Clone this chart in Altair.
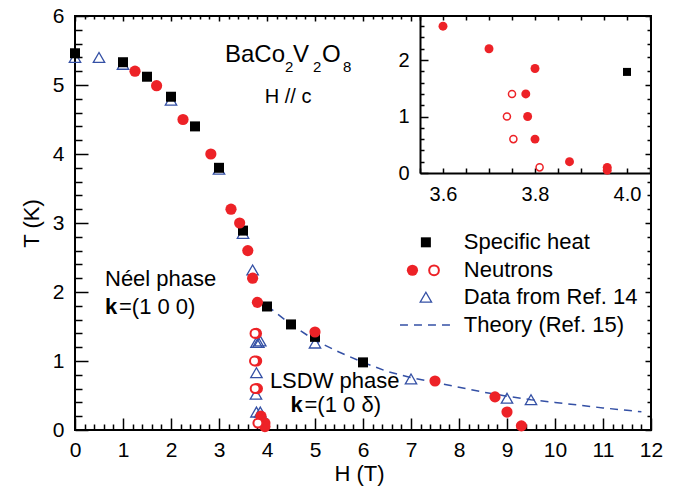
import altair as alt
import pandas as pd

RED = "#ED2227"
BLUE = "#3450A5"
FONT = "Liberation Sans"

# ---------------- data ----------------
# Specific heat (black squares)
sh_H = [0.0, 1.0, 1.5, 2.0, 2.5, 3.0, 3.5, 4.0, 4.5, 5.0, 6.0]
sh_T = [5.46, 5.33, 5.12, 4.83, 4.40, 3.80, 2.89, 1.79, 1.53, 1.35, 0.98]

# Neutrons, filled circles
nf_H = [1.25, 1.70, 2.25, 2.83, 3.25, 3.43, 3.60, 3.70, 3.80, 3.78, 3.784, 3.80,
        3.875, 3.957, 3.957, 5.0, 7.5, 8.75, 9.0, 9.3]
nf_T = [5.20, 4.99, 4.50, 4.00, 3.20, 3.00, 2.60, 2.20, 1.85, 1.40, 1.00, 0.60,
        0.20, 0.10, 0.05, 1.42, 0.71, 0.48, 0.26, 0.06]

# Neutrons, open circles
no_H = [3.750, 3.739, 3.753, 3.810]
no_T = [1.40, 1.00, 0.60, 0.10]

# Data from Ref. 14 (open triangles)
ref_H = [0.0, 0.5, 1.0, 2.0, 3.0, 3.5, 3.70, 3.78, 3.82, 3.86, 3.78, 3.77, 3.78,
         3.86, 5.0, 7.0, 9.0, 9.5]
ref_T = [5.40, 5.40, 5.30, 4.78, 3.78, 2.85, 2.32, 1.27, 1.27, 1.29, 0.83, 0.52,
         0.26, 0.26, 1.26, 0.74, 0.46, 0.44]

# Theory (Ref. 15)
th_H = [4.0, 4.5, 5.0, 5.5, 6.0, 6.5, 7.0, 7.5, 8.0, 8.5, 9.0, 9.5, 10.0, 10.5,
        11.0, 11.5, 11.8]
th_T = [1.80, 1.53, 1.30, 1.13, 0.98, 0.85, 0.76, 0.69, 0.62, 0.55, 0.49, 0.44,
        0.40, 0.36, 0.32, 0.285, 0.265]

# tick values
x_major = list(range(0, 13))
x_minor = [round(i * 0.2, 1) for i in range(61) if i % 5]
y_major = list(range(0, 7))
y_minor = [round(i * 0.2, 1) for i in range(31) if i % 5]
ix_ticks = [round(3.55 + 0.05 * i, 2) for i in range(11)]
ix_labels = [3.6, 3.8, 4.0]
iy_major = [0, 1, 2]
iy_minor = [0.2, 0.4, 0.6, 0.8, 1.2, 1.4, 1.6, 1.8, 2.2, 2.4, 2.6]

IXD = [3.55, 4.05]
IYD = [0, 2.78]


def frame(hs, ts):
    return pd.DataFrame({"H": list(hs), "T": list(ts)})


def inset_frame(hs, ts):
    keep = [(h, t) for h, t in zip(hs, ts)
            if IXD[0] <= h <= IXD[1] and t <= IYD[1]]
    return pd.DataFrame({"H": [k[0] for k in keep], "T": [k[1] for k in keep]})


sh = frame(sh_H, sh_T)
nf = frame(nf_H, nf_T)
no = frame(no_H, no_T)
ref = frame(ref_H, ref_T)
th = frame(th_H, th_T)
one = pd.DataFrame({"k": [0]})

# ---------------- layout ----------------
W, HT = 576, 414
IX0, IX1, IY0 = 345, 575, 157

xs = alt.Scale(domain=[0, 12], nice=False, zero=False)
ys = alt.Scale(domain=[0, 6], nice=False, zero=False)
ixs = alt.Scale(domain=IXD, range=[IX0, IX1], nice=False, zero=False)
iys = alt.Scale(domain=IYD, range=[IY0, 0], nice=False, zero=False)

main_xaxis = alt.Axis(orient="bottom", values=x_major, ticks=False, tickSize=0,
                      domain=False, grid=False, labelFlush=False, labelOverlap=False,
                      labelPadding=9, labelFontSize=21, labelFont=FONT,
                      title="H (T)", titleFontSize=22, titleFontWeight="normal",
                      titleFont=FONT, titleX=284, titleY=50,
                      titleBaseline="alphabetic", titleAlign="center")
main_yaxis = alt.Axis(orient="left", values=y_major, ticks=False, tickSize=0,
                      domain=False, grid=False, labelFlush=False, labelOverlap=False,
                      labelPadding=11, labelFontSize=21, labelFont=FONT,
                      title="T (K)", titleFontSize=22, titleFontWeight="normal",
                      titleFont=FONT, titleX=-37, titleY=207, titleAngle=270,
                      titleBaseline="alphabetic", titleAlign="center")
inset_xaxis = alt.Axis(orient="bottom", offset=-(HT - IY0), values=ix_labels,
                       format=".1f", ticks=False, tickSize=0, domain=True,
                       domainColor="black", domainWidth=2, grid=False,
                       labelFlush=False, labelOverlap=False, labelPadding=11,
                       labelFontSize=20, labelFont=FONT, title="")
inset_yaxis = alt.Axis(orient="left", offset=-IX0, values=iy_major, ticks=False,
                       tickSize=0, domain=True, domainColor="black", domainWidth=2,
                       grid=False, labelFlush=False, labelOverlap=False,
                       labelPadding=11, labelFontSize=20, labelFont=FONT, title="")


def tick_axis(orient, values, length, base=0):
    # tick-only axis shifted inward by its own tick length, so ticks point inside
    return alt.Axis(orient=orient, offset=base - length, values=values, ticks=True,
                    tickSize=length, tickWidth=1.5, tickColor="black", labels=False,
                    domain=False, grid=False, title="")


def carrier(sx, sy, at_x, at_y, xaxis, yaxis):
    return alt.Chart(one).mark_point(opacity=0, size=1).encode(
        x=alt.XDatum(at_x, scale=sx, axis=xaxis),
        y=alt.YDatum(at_y, scale=sy, axis=yaxis))


def pts(df, sx, sy, **kw):
    return alt.Chart(df).mark_point(opacity=1, **kw).encode(
        x=alt.X("H:Q", scale=sx, axis=None), y=alt.Y("T:Q", scale=sy, axis=None))


def txt(s, x, y, size=22, dx=0, dy=0, weight="normal", align="left",
        baseline="middle"):
    return alt.Chart(one).mark_text(
        text=s, font=FONT, fontSize=size, fontWeight=weight, align=align,
        baseline=baseline, dx=dx, dy=dy, color="black").encode(
        x=alt.XDatum(x, axis=None, scale=xs),
        y=alt.YDatum(y, axis=None, scale=ys))


def sym(x, y, **kw):
    return alt.Chart(one).mark_point(opacity=1, **kw).encode(
        x=alt.XDatum(x, axis=None, scale=xs),
        y=alt.YDatum(y, axis=None, scale=ys))


main_layers = [
    # axes: labels, then inward ticks on all four sides
    carrier(xs, ys, 6, 3, main_xaxis, main_yaxis),
    carrier(xs, ys, 6, 3, tick_axis("bottom", x_major, 12),
            tick_axis("left", y_major, 13)),
    carrier(xs, ys, 6, 3, tick_axis("bottom", x_minor, 6),
            tick_axis("left", y_minor, 7)),
    carrier(xs, ys, 6, 3, tick_axis("top", [v for v in x_major if v < 7.1], 5),
            tick_axis("right", y_major, 6)),
    carrier(xs, ys, 6, 3, tick_axis("top", [v for v in x_minor if v < 7.1], 3),
            tick_axis("right", y_minor, 4)),
    # data
    alt.Chart(th).mark_line(color=BLUE, strokeDash=[8, 6], strokeWidth=1.5).encode(
        x=alt.X("H:Q", scale=xs, axis=None), y=alt.Y("T:Q", scale=ys, axis=None)),
    pts(ref, xs, ys, shape="triangle-up", filled=False, color=BLUE, size=130,
        strokeWidth=1.3),
    pts(sh, xs, ys, shape="square", filled=True, color="black", size=100),
    pts(nf, xs, ys, shape="circle", filled=True, color=RED, size=125),
    pts(no, xs, ys, shape="circle", fill="white", stroke=RED, strokeWidth=2,
        size=80, fillOpacity=1),
    # annotations
    txt("BaCo", 3.125, 5.33, size=24, baseline="alphabetic"),
    txt("2", 3.125, 5.33, size=15, dx=60, dy=10, baseline="alphabetic"),
    txt("V", 3.125, 5.33, size=24, dx=68, baseline="alphabetic"),
    txt("2", 3.125, 5.33, size=15, dx=88, dy=10, baseline="alphabetic"),
    txt("O", 3.125, 5.33, size=24, dx=97, baseline="alphabetic"),
    txt("8", 3.125, 5.33, size=15, dx=118, dy=10, baseline="alphabetic"),
    txt("H // c", 4.44, 4.82, size=20, align="center"),
    txt("Néel phase", 0.625, 2.185),
    txt("k", 0.625, 1.78, weight="bold"),
    txt("=(1 0 0)", 0.625, 1.78, dx=14),
    txt("LSDW phase", 4.06, 0.71),
    txt("k", 4.49, 0.36, weight="bold"),
    txt("=(1 0 δ)", 4.49, 0.36, dx=14),
    # legend
    sym(7.31, 2.72, shape="square", filled=True, color="black", size=100),
    sym(7.03, 2.315, shape="circle", filled=True, color=RED, size=125),
    sym(7.48, 2.315, shape="circle", fill="white", stroke=RED, strokeWidth=2,
        size=95, fillOpacity=1),
    sym(7.31, 1.925, shape="triangle-up", filled=False, color=BLUE, size=130,
        strokeWidth=1.3),
    alt.Chart(one).mark_rule(color=BLUE, strokeDash=[8, 6], strokeWidth=1.5).encode(
        x=alt.XDatum(6.77, axis=None, scale=xs), x2=alt.X2Datum(7.83),
        y=alt.YDatum(1.52, axis=None, scale=ys)),
    txt("Specific heat", 8.10, 2.72),
    txt("Neutrons", 8.10, 2.315),
    txt("Data from Ref. 14", 8.10, 1.925),
    txt("Theory (Ref. 15)", 8.10, 1.52),
]
main = alt.layer(*main_layers).resolve_axis(x="independent", y="independent")

ish = inset_frame(sh_H, sh_T)
inf = inset_frame(nf_H, nf_T)
ino = inset_frame(no_H, no_T)

inset_layers = [
    carrier(ixs, iys, 3.8, 1, inset_xaxis, inset_yaxis),
    carrier(ixs, iys, 3.8, 1, tick_axis("bottom", ix_ticks, 5, -(HT - IY0)),
            tick_axis("left", iy_major, 8, -IX0)),
    carrier(ixs, iys, 3.8, 1, tick_axis("top", ix_ticks, 4),
            tick_axis("left", iy_minor, 4, -IX0)),
    pts(ish, ixs, iys, shape="square", filled=True, color="black", size=64),
    pts(inf, ixs, iys, shape="circle", filled=True, color=RED, size=80),
    pts(ino, ixs, iys, shape="circle", fill="white", stroke=RED,
        strokeWidth=1.5, size=50, fillOpacity=1),
]
inset = alt.layer(*inset_layers).resolve_axis(x="independent", y="independent")

chart = alt.layer(main, inset).resolve_scale(
    x="independent", y="independent"
).properties(
    width=W, height=HT,
    autosize=alt.AutoSizeParams(type="none"),
    padding={"left": 75, "top": 16, "right": 38, "bottom": 59},
    background="white",
).configure_view(
    stroke="black", strokeWidth=2
).configure_axis(
    labelColor="black", titleColor="black", labelFont=FONT, titleFont=FONT
)

chart.save("out.html", embed_options={"renderer": "svg", "actions": False})
